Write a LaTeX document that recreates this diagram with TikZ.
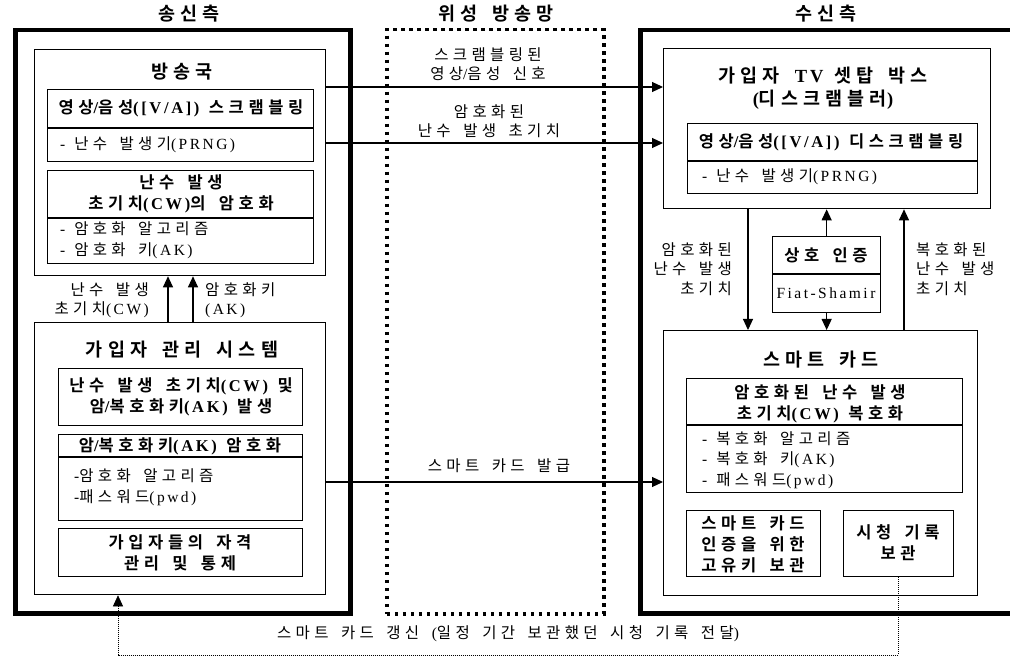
\documentclass[tikz,border=0pt]{standalone}
\usepackage{fontspec}
\setmainfont[LetterSpace=16,WordSpace=1.4]{Liberation Serif}
\newfontfamily\kr[BoldFont={Noto Sans CJK KR Bold},LetterSpace=28,WordSpace=1.6]{Noto Sans CJK KR}
\usetikzlibrary{arrows.meta}
\XeTeXinterchartokenstate=1
\newXeTeXintercharclass\HanClass
\count255="AC00
\loop\XeTeXcharclass\count255=\HanClass\relax\ifnum\count255<"D7A3 \advance\count255 by 1 \repeat
\XeTeXinterchartoks 0 \HanClass = {\kr}
\XeTeXinterchartoks 4095 \HanClass = {\kr}
\XeTeXinterchartoks \HanClass 0 = {\rmfamily}
\XeTeXinterchartoks 4095 0 = {\rmfamily}
\tikzset{
  outerbox/.style={draw, line width=4.5pt, inner sep=0pt, anchor=north west},
  satbox/.style={draw, line width=3.5pt, dash pattern=on 3.5pt off 4.5pt, inner sep=0pt, anchor=north west},
  bx/.style={draw, line width=1.3pt, inner sep=0pt, anchor=north west},
  dv/.style={line width=1.3pt},
  arr/.style={line width=1.1pt, -{Triangle[length=11pt,width=10pt]}},
  fb/.style={line width=0.6pt, dash pattern=on 1pt off 1pt, -{Triangle[length=11pt,width=10pt]}},
  ttl/.style={font={\bfseries\fontsize{18.5}{23}\selectfont}, align=center, inner sep=0pt},
  hd/.style={font={\bfseries\fontsize{16.5}{21}\selectfont}, align=center, inner sep=0pt},
  it/.style={font={\fontsize{15.5}{20.5}\selectfont}, align=left, inner sep=0pt, anchor=west},
  lb/.style={font={\fontsize{15.5}{19.5}\selectfont}, inner sep=0pt}
}
\begin{document}
\begin{tikzpicture}[x=1pt,y=-1pt]
\useasboundingbox (0,0) rectangle (1010,660);
% titles
\node[ttl] (tsend) at (189,14) {송신측};
\node[ttl] (tsat) at (496,14) {위성 방송망};
\node[ttl] (trecv) at (826,14) {수신측};
% outer frames
\node[outerbox, minimum width=335pt, minimum height=583pt] (left) at (13,28) {};
\node[satbox, minimum width=217pt, minimum height=584pt] (sat) at (385,28) {};
\node[outerbox, minimum width=380pt, minimum height=583pt] (right) at (638,28) {};
% ---- left: broadcast station
\node[bx, minimum width=291pt, minimum height=226pt] (bc) at (34,49) {};
\node[ttl] (tbc) at (182,72) {방송국};
\node[bx, minimum width=266pt, minimum height=72pt] (va) at (47,89) {};
\draw[dv] (va.west |- 0,128) -- (va.east |- 0,128);
\node[hd] (tva) at (181,108) {영상/음성([V/A]) 스크램블링};
\node[it] (iva) at (60,145) {- 난수 발생기(PRNG)};
\node[bx, minimum width=266pt, minimum height=93pt] (cw) at (47,170) {};
\draw[dv] (cw.west |- 0,218) -- (cw.east |- 0,218);
\node[hd] (tcw) at (181,194) {난수 발생\\초기치(CW)의 암호화};
\node[it] (icw) at (60,240) {- 암호화 알고리즘\\- 암호화 키(AK)};
% ---- left: subscriber management system
\node[bx, minimum width=291pt, minimum height=272pt] (sms) at (34,322) {};
\node[ttl] (tsms) at (182,350) {가입자 관리 시스템};
\node[bx, minimum width=244pt, minimum height=57pt] (gen) at (58,368) {};
\node[hd] (tgen) at (181,397) {난수 발생 초기치(CW) 및\\암/복호화키(AK) 발생};
\node[bx, minimum width=244pt, minimum height=86pt] (akenc) at (58,434) {};
\draw[dv] (akenc.west |- 0,457) -- (akenc.east |- 0,457);
\node[hd] (takenc) at (180,446) {암/복호화키(AK) 암호화};
\node[it] (iakenc) at (74,487) {-암호화 알고리즘\\-패스워드(pwd)};
\node[bx, minimum width=244pt, minimum height=48pt] (mgmt) at (58,528) {};
\node[hd] (tmgmt) at (180,553) {가입자들의 자격\\관리 및 통제};
% arrows sms -> bc
\draw[arr] (sms.north -| 168,0) -- (bc.south -| 168,0);
\draw[arr] (sms.north -| 193,0) -- (bc.south -| 193,0);
\node[lb, align=right, anchor=east] (lcw) at (149,300) {난수 발생\\초기치(CW)};
\node[lb, align=left, anchor=west] (lak) at (205,300) {암호화키\\(AK)};
% ---- right: set-top box
\node[bx, minimum width=327pt, minimum height=160pt] (stb) at (663,48) {};
\node[ttl] (tstb) at (823,88) {가입자 TV 셋탑 박스\\(디스크램블러)};
\node[bx, minimum width=290pt, minimum height=70pt] (desc) at (687,123) {};
\draw[dv] (desc.west |- 0,161) -- (desc.east |- 0,161);
\node[hd] (tdesc) at (831,142) {영상/음성([V/A]) 디스크램블링};
\node[it] (idesc) at (702,177) {- 난수 발생기(PRNG)};
% mutual authentication
\node[bx, minimum width=108pt, minimum height=76pt] (auth) at (772,236) {};
\draw[dv] (auth.west |- 0,274) -- (auth.east |- 0,274);
\node[hd] (tauth) at (826,255) {상호 인증};
\node[lb] (iauth) at (826,293) {Fiat-Shamir};
% smart card
\node[bx, minimum width=314pt, minimum height=265pt] (card) at (663,330) {};
\node[ttl] (tcard) at (821,360) {스마트 카드};
\node[bx, minimum width=276pt, minimum height=114pt] (dec) at (686,378) {};
\draw[dv] (dec.west |- 0,425) -- (dec.east |- 0,425);
\node[hd] (tdec) at (820,404) {암호화된 난수 발생\\초기치(CW) 복호화};
\node[it] (idec) at (702,460) {- 복호화 알고리즘\\- 복호화 키(AK)\\- 패스워드(pwd)};
\node[bx, minimum width=134pt, minimum height=66pt] (ukey) at (686,510) {};
\node[hd] (tukey) at (753,544) {스마트 카드\\인증을 위한\\고유키 보관};
\node[bx, minimum width=110pt, minimum height=66pt] (view) at (843,510) {};
\node[hd] (tview) at (898,543) {시청 기록\\보관};
% right arrows
\draw[arr] (stb.south -| 748,0) -- (card.north -| 748,0);
\draw[arr] (auth.north) -- (stb.south -| auth.north);
\draw[arr] (auth.south) -- (card.north -| auth.south);
\draw[arr] (card.north -| 904,0) -- (stb.south -| 904,0);
\node[lb, align=right, anchor=east] (lenc) at (732,269) {암호화된\\난수 발생\\초기치};
\node[lb, align=left, anchor=west] (ldec) at (916,269) {복호화된\\난수 발생\\초기치};
% transmission arrows
\draw[arr] (bc.east |- 0,87) -- (stb.west |- 0,87);
\draw[arr] (bc.east |- 0,143) -- (stb.west |- 0,143);
\draw[arr] (sms.east |- 0,482) -- (card.west |- 0,482);
\node[lb, align=center] (lsig) at (488,64) {스크램블링된\\영상/음성 신호};
\node[lb, align=center] (lcwt) at (489,121) {암호화된\\난수 발생 초기치};
\node[lb] (lissue) at (499,466) {스마트 카드 발급};
% feedback
\coordinate (fb1) at (view.south |- 0,655);
\coordinate (fb2) at (118,655);
\draw[fb] (view.south) -- (fb1) -- (fb2) -- (sms.south -| fb2);
\node[lb] (lfb) at (508,634) {스마트 카드 갱신 (일정 기간 보관했던 시청 기록 전달)};
\end{tikzpicture}
\end{document}
